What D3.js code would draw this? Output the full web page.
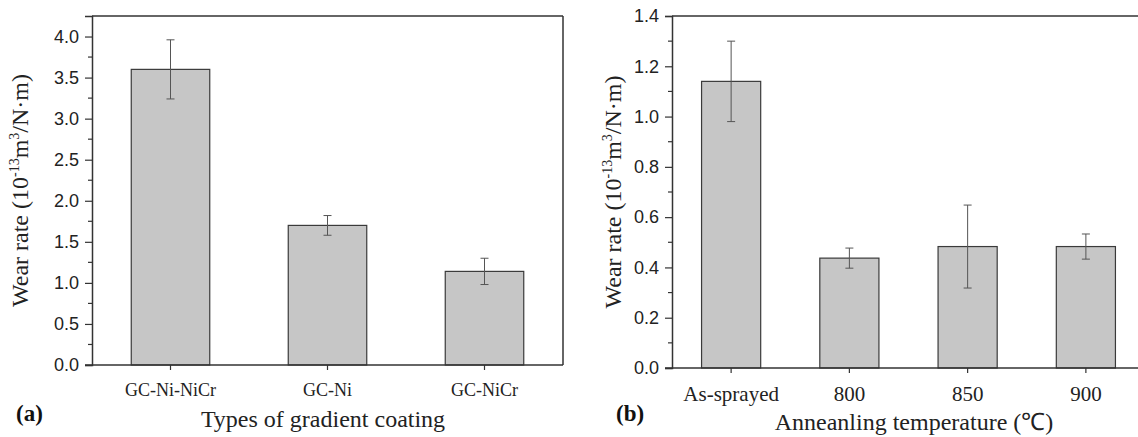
<!DOCTYPE html>
<html>
<head>
<meta charset="utf-8">
<script src="https://cdn.jsdelivr.net/npm/d3@7"></script>
<style>
  body { margin: 0; background: #fff; }
  svg { display: block; }
</style>
</head>
<body>
<div id="chart"></div>
<script>
// panel (a) data
var coatingTypes = ["GC-Ni-NiCr", "GC-Ni", "GC-NiCr"];
var coatingWear = [3.60, 1.70, 1.14];
var coatingErr = [0.36, 0.12, 0.16];
var coatingTicks = [0, 0.5, 1.0, 1.5, 2.0, 2.5, 3.0, 3.5, 4.0];
var coatingMinor = [0.25, 0.75, 1.25, 1.75, 2.25, 2.75, 3.25, 3.75];

// panel (b) data
var annealLabels = ["As-sprayed", "800", "850", "900"];
var annealWear = [1.14, 0.437, 0.483, 0.483];
var annealErr = [0.16, 0.04, 0.165, 0.05];
var annealTicks = [0, 0.2, 0.4, 0.6, 0.8, 1.0, 1.2, 1.4];
var annealMinor = [0.1, 0.3, 0.5, 0.7, 0.9, 1.1, 1.3];

var W = 1138, H = 437;
var serif = "'Liberation Serif', 'Times New Roman', serif";
var sans = "'Liberation Sans', Arial, sans-serif";

var svg = d3.select("#chart").append("svg")
    .attr("width", W)
    .attr("height", H);

function drawPanel(p) {
    var g = svg.append("g");

    var x = d3.scaleBand()
        .domain(p.cats)
        .range([p.left, p.right])
        .paddingInner(0.5)
        .paddingOuter(0.25);

    var y = d3.scaleLinear()
        .domain(p.yDomain)
        .range([p.bottom, p.top]);

    var rows = p.cats.map(function(c, i) {
        return {cat: c, value: p.values[i], err: p.errs[i]};
    });

    // frame (top + right)
    g.append("line")
        .attr("x1", p.left).attr("x2", p.right)
        .attr("y1", p.top).attr("y2", p.top)
        .attr("stroke", "#333").attr("stroke-width", 1.5);
    g.append("line")
        .attr("x1", p.right).attr("x2", p.right)
        .attr("y1", p.top).attr("y2", p.bottom)
        .attr("stroke", "#333").attr("stroke-width", 1.5);

    // bars
    g.selectAll(".bar")
        .data(rows)
        .enter().append("rect")
        .attr("class", "bar")
        .attr("x", function(d) { return x(d.cat); })
        .attr("width", x.bandwidth())
        .attr("y", function(d) { return y(d.value); })
        .attr("height", function(d) { return y(0) - y(d.value); })
        .attr("fill", "#c6c6c6")
        .attr("stroke", "#3a3a3a")
        .attr("stroke-width", 1.2);

    // error bars
    var eb = g.selectAll(".err")
        .data(rows)
        .enter().append("g")
        .attr("class", "err")
        .attr("stroke", "#555")
        .attr("stroke-width", 1);
    eb.append("line")
        .attr("x1", function(d) { return x(d.cat) + x.bandwidth() / 2; })
        .attr("x2", function(d) { return x(d.cat) + x.bandwidth() / 2; })
        .attr("y1", function(d) { return y(d.value + d.err); })
        .attr("y2", function(d) { return y(d.value - d.err); });
    [1, -1].forEach(function(s) {
        eb.append("line")
            .attr("x1", function(d) { return x(d.cat) + x.bandwidth() / 2 - 4; })
            .attr("x2", function(d) { return x(d.cat) + x.bandwidth() / 2 + 4; })
            .attr("y1", function(d) { return y(d.value + s * d.err); })
            .attr("y2", function(d) { return y(d.value + s * d.err); });
    });

    // y axis
    var yAxis = d3.axisLeft(y)
        .tickValues(p.ticks)
        .tickSize(7)
        .tickPadding(6)
        .tickFormat(d3.format(".1f"));
    var ya = g.append("g")
        .attr("transform", "translate(" + p.left + ",0)")
        .call(yAxis);
    ya.select(".domain").attr("stroke", "#333").attr("stroke-width", 1.5);
    ya.selectAll(".tick line").attr("stroke", "#333").attr("stroke-width", 1.2);
    ya.selectAll(".tick text")
        .attr("fill", "#222")
        .style("font-family", sans)
        .style("font-size", "18px");

    g.selectAll(".minor")
        .data(p.minor)
        .enter().append("line")
        .attr("x1", p.left - 4).attr("x2", p.left)
        .attr("y1", function(d) { return y(d); })
        .attr("y2", function(d) { return y(d); })
        .attr("stroke", "#333").attr("stroke-width", 1.2);

    // x axis
    var xAxis = d3.axisBottom(x)
        .tickSize(5)
        .tickSizeOuter(0)
        .tickPadding(13);
    var xa = g.append("g")
        .attr("transform", "translate(0," + p.bottom + ")")
        .call(xAxis);
    xa.select(".domain").attr("stroke", "#333").attr("stroke-width", 1.5)
        .attr("d", "M" + (p.left - 7) + ",0H" + p.right);
    xa.selectAll(".tick line").attr("stroke", "#333").attr("stroke-width", 1.2);
    xa.selectAll(".tick text")
        .attr("fill", "#222")
        .style("font-family", serif)
        .style("font-size", p.catSize + "px");

    // axis titles
    var yt = g.append("text")
        .attr("transform", "translate(" + p.yTitleX + "," + ((p.top + p.bottom) / 2) + ") rotate(-90)")
        .attr("text-anchor", "middle")
        .attr("fill", "#222")
        .style("font-family", serif)
        .style("font-size", "24px");
    yt.append("tspan").text("Wear rate (10");
    yt.append("tspan").attr("dy", -9).style("font-size", "14px").text("-13");
    yt.append("tspan").attr("dy", 9).text("m");
    yt.append("tspan").attr("dy", -9).style("font-size", "14px").text("3");
    yt.append("tspan").attr("dy", 9).text("/N·m)");

    g.append("text")
        .attr("x", p.xTitleX)
        .attr("y", p.xTitleY)
        .attr("text-anchor", "middle")
        .attr("fill", "#222")
        .style("font-family", serif)
        .style("font-size", "24px")
        .text(p.xTitle);

    g.append("text")
        .attr("x", p.tagX)
        .attr("y", 421)
        .attr("fill", "#111")
        .style("font-family", serif)
        .style("font-weight", "bold")
        .style("font-size", "23px")
        .text(p.tag);
}

drawPanel({
    cats: coatingTypes, values: coatingWear, errs: coatingErr,
    ticks: coatingTicks, minor: coatingMinor, yDomain: [0, 4.25],
    left: 92, right: 563, top: 16, bottom: 365,
    catSize: 18, yTitleX: 28, xTitleX: 323, xTitleY: 427,
    xTitle: "Types of gradient coating", tag: "(a)", tagX: 16
});

drawPanel({
    cats: annealLabels, values: annealWear, errs: annealErr,
    ticks: annealTicks, minor: annealMinor, yDomain: [0, 1.4],
    left: 672, right: 1145, top: 16, bottom: 368,
    catSize: 21, yTitleX: 621, xTitleX: 914, xTitleY: 430,
    xTitle: "Anneanling temperature (℃)", tag: "(b)", tagX: 616
});
</script>
</body>
</html>
